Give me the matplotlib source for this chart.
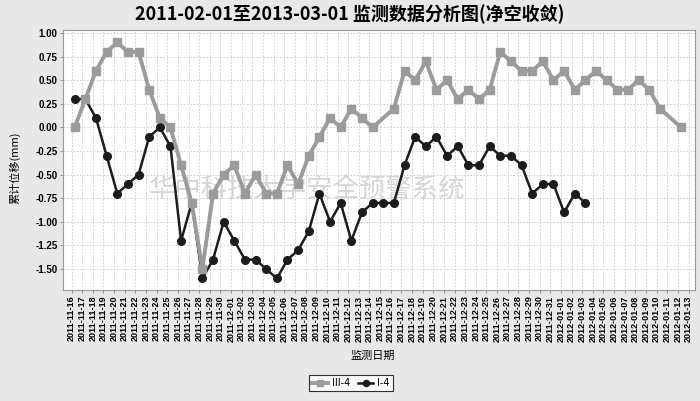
import matplotlib
matplotlib.use("Agg")
import matplotlib.pyplot as plt
import numpy as np
import pandas as pd

# ---- data ----
start_date = "2011-11-16"
end_date = "2012-01-13"
dates = pd.date_range(start_date, end_date, freq="D")
tick_labels = [d.strftime("%Y-%m-%d") for d in dates]

# III-4 (one value per day, None = no measurement)
series_iii4 = [0.0, 0.3, 0.6, 0.8, 0.9, 0.8, 0.8, 0.4, 0.1, 0.0,
               -0.4, -0.8, -1.5, -0.7, -0.5, -0.4, -0.7, -0.5, -0.7, -0.7,
               -0.4, -0.6, -0.3, -0.1, 0.1, 0.0, 0.2, 0.1, 0.0, None,
               0.2, 0.6, 0.5, 0.7, 0.4, 0.5, 0.3, 0.4, 0.3, 0.4,
               0.8, 0.7, 0.6, 0.6, 0.7, 0.5, 0.6, 0.4, 0.5, 0.6,
               0.5, 0.4, 0.4, 0.5, 0.4, 0.2, None, 0.0]
# I-4
series_i4 = [0.3, 0.3, 0.1, -0.3, -0.7, -0.6, -0.5, -0.1, 0.0, -0.2,
             -1.2, -0.8, -1.6, -1.4, -1.0, -1.2, -1.4, -1.4, -1.5, -1.6,
             -1.4, -1.3, -1.1, -0.7, -1.0, -0.8, -1.2, -0.9, -0.8, -0.8,
             -0.8, -0.4, -0.1, -0.2, -0.1, -0.3, -0.2, -0.4, -0.4, -0.2,
             -0.3, -0.3, -0.4, -0.7, -0.6, -0.6, -0.9, -0.7, -0.8]

title = "2011-02-01至2013-03-01 监测数据分析图(净空收敛)"
ylabel = "累计位移(mm)"
xlabel = "监测日期"
watermark = "华中科技大学安全预警系统"
yticks = [1.00, 0.75, 0.50, 0.25, 0.00, -0.25, -0.50, -0.75, -1.00, -1.25, -1.50]

# ---- figure ----
W, H = 700, 401
fig = plt.figure(figsize=(W / 100, H / 100), dpi=100, facecolor="#e8e8e8")
ax = fig.add_axes([63 / W, 1 - 290 / H, (695 - 63) / W, (290 - 30) / H])
ax.set_facecolor("white")

day_offset = 0.3  # measurement time within the day


def xy(vals):
    v = np.array([np.nan if a is None else a for a in vals], dtype=float)
    x = np.arange(len(v)) + day_offset
    m = ~np.isnan(v)
    return x[m], v[m]


xb, yb = xy(series_i4)
xg, yg = xy(series_iii4)
ax.plot(xb, yb, "-o", color="#1c1c1c", lw=1.8, ms=5.5, zorder=3, label="I-4")
ax.plot(xg, yg, "-s", color="#9b9b9b", lw=2.8, ms=5.5, zorder=4, label="III-4")

ax.set_xlim(-0.8, 58.6)
ax.set_ylim(-1.722, 1.032)

ax.set_xticks(np.arange(len(dates)))
ax.set_xticklabels(tick_labels, rotation=90, fontsize=6.5, fontweight="bold",
                   family=["Liberation Sans", "DejaVu Sans"])
ax.set_yticks(yticks)
ax.set_yticklabels([f"{t:.2f}" for t in yticks], fontsize=7, fontweight="bold",
                   family=["Liberation Sans", "DejaVu Sans"])
ax.tick_params(axis="both", length=2, width=0.6, color="#888888", pad=2)
ax.grid(True, color="#c8c8c8", linestyle=(0, (2, 2)), linewidth=0.6)
ax.set_axisbelow(True)
for s in ax.spines.values():
    s.set_color("#999999")
    s.set_linewidth(0.8)

# watermark
ax.text(0.386, 0.385, watermark, transform=ax.transAxes, ha="center", va="center",
        fontsize=19, color="#d6d6d6", family=["Noto Sans CJK SC"], zorder=2)

# title & labels
fig.text(350 / W, 1 - 14 / H, title, ha="center", va="center", fontsize=13,
         fontweight="bold", family=["Liberation Sans Narrow", "Noto Sans CJK SC"])
fig.text(15 / W, 1 - 168 / H, ylabel, rotation=90, ha="center", va="center",
         fontsize=8, family=["Noto Sans CJK SC"])
fig.text(373 / W, 1 - 356 / H, xlabel, ha="center", va="center",
         fontsize=8, family=["Noto Sans CJK SC"])

h, l = ax.get_legend_handles_labels()
leg = fig.legend(h[::-1], l[::-1], loc="center", bbox_to_anchor=(351 / W, 1 - 383 / H),
                 ncol=2, fontsize=7, frameon=True, fancybox=False, edgecolor="black",
                 facecolor="white", handlelength=1.6, columnspacing=0.8,
                 handletextpad=0.4, borderpad=0.35, markerscale=0.8)
leg.get_frame().set_linewidth(0.8)

fig.savefig("out.png", dpi=100, facecolor=fig.get_facecolor())
